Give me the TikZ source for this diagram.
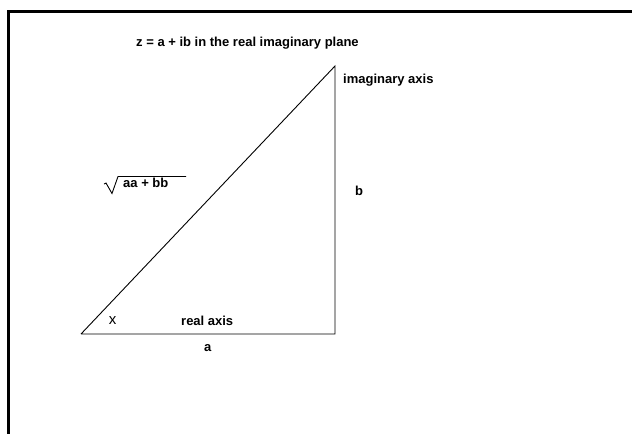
\documentclass[tikz,border=0pt]{standalone}
\usepackage{fontspec}
\setmainfont{Liberation Sans}
\begin{document}
\begin{tikzpicture}[x=1pt,y=-1pt,
  lbl/.style={inner sep=0pt,anchor=base west,font=\fontsize{13}{15}\selectfont\bfseries},
  frame/.style={line width=3pt},
  side/.style={line width=0.9pt}]
\useasboundingbox (0,0) rectangle (632,434);
\fill[white] (0,0) rectangle (632,434);
% frame
\draw[frame] (632,11.5) -- (8.5,11.5) -- (8.5,434);
% triangle
\coordinate (O) at (81,334);
\coordinate (R) at (335,334);
\coordinate (T) at (335,66);
\draw[side] (O) -- (R) -- (T) -- (O);
% labels
\node[lbl] (title) at (136,46.5) {z = a + ib in the real imaginary plane};
\node[lbl] (imag) at (343,83) {imaginary axis};
\node[lbl] (b) at (355,195) {b};
\node[lbl] (hyp) at (123,187.5) {aa + bb};
\draw[line width=0.9pt] (104,184) -- (106,183) -- (112,193.5) -- (118,176.5) -- (186,176.5);
\node[inner sep=0pt,font=\fontsize{15}{17}\selectfont] (x) at (112.5,320.5) {x};
\node[lbl] (real) at (181,325.7) {real axis};
\node[lbl] (a) at (204,351.7) {a};
\end{tikzpicture}
\end{document}
